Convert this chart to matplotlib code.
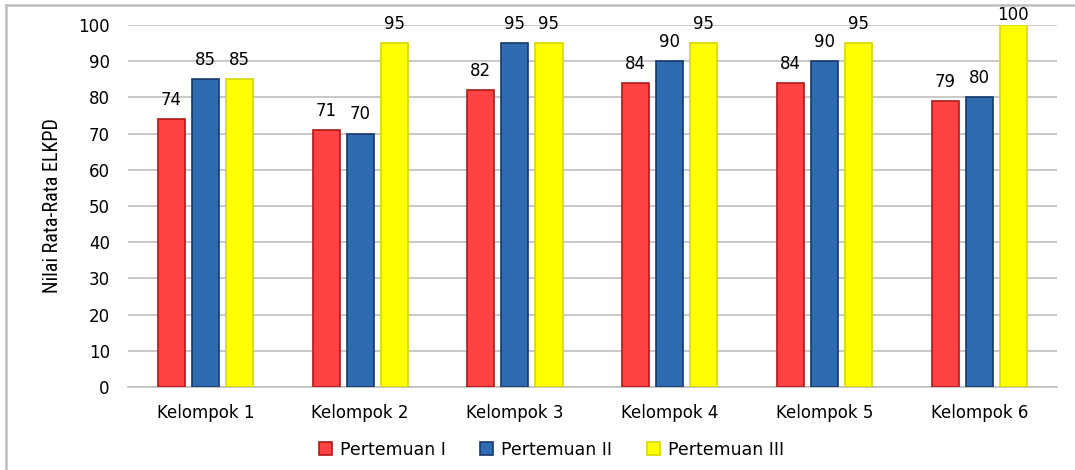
import matplotlib
matplotlib.use("Agg")
import matplotlib.pyplot as plt
import numpy as np
from matplotlib.lines import Line2D
from matplotlib import font_manager

categories = ["Kelompok 1", "Kelompok 2", "Kelompok 3", "Kelompok 4", "Kelompok 5", "Kelompok 6"]
series_names = ["Pertemuan I", "Pertemuan II", "Pertemuan III"]
pertemuan1 = [74, 71, 82, 84, 84, 79]
pertemuan2 = [85, 70, 95, 90, 90, 80]
pertemuan3 = [85, 95, 95, 95, 95, 100]
yticks = [0, 10, 20, 30, 40, 50, 60, 70, 80, 90, 100]
ylabel = "Nilai Rata-Rata ELKPD"

faces = ["#FF4343", "#2E6BB0", "#FFFF00"]
edges = ["#B01818", "#17386A", "#D8D800"]

names = {f.name for f in font_manager.fontManager.ttflist}
narrow = [n for n in ["Liberation Sans Narrow", "DejaVu Sans Condensed", "Roboto Condensed"] if n in names]
ylab_family = (narrow + ["Liberation Sans", "DejaVu Sans"])

fig = plt.figure(figsize=(10.75, 4.7), dpi=100)
ax = fig.add_axes([0.119, 0.1766, 0.864, 0.7705])
fig.add_artist(Line2D([0.006, 0.006], [0.0, 0.989], transform=fig.transFigure, color="#BFBFBF", linewidth=1.8))
fig.add_artist(Line2D([0.006, 1.0], [0.989, 0.989], transform=fig.transFigure, color="#BFBFBF", linewidth=1.8))

x = np.arange(len(categories))
w = 0.175
offs = [-0.22, 0.0, 0.22]
for vals, o, fc, ec, name in zip([pertemuan1, pertemuan2, pertemuan3], offs, faces, edges, series_names):
    bars = ax.bar(x + o, vals, width=w, color=fc, edgecolor=ec, linewidth=1.2, label=name, zorder=3)
    for b, v in zip(bars, vals):
        ty = min(v + 2.8, 100.3)
        ax.text(b.get_x() + b.get_width() / 2, ty, str(v), ha="center", va="bottom",
                fontsize=12, color="#000000", zorder=4)

ax.set_xlim(-0.5, 5.5)
ax.set_ylim(0, 100)
ax.set_yticks(yticks)
ax.set_xticks(x)
ax.set_xticklabels(categories)
ax.tick_params(axis="both", length=0, labelsize=12, colors="#000000")
ax.tick_params(axis="y", pad=13)
ax.tick_params(axis="x", pad=12)
ax.grid(axis="y", color="#BFBFBF", linewidth=1.2, zorder=0)
for s in ["top", "right", "left"]:
    ax.spines[s].set_visible(False)
ax.spines["bottom"].set_color("#BFBFBF")
ax.spines["bottom"].set_linewidth(1.2)
ax.set_ylabel(ylabel, family=ylab_family, fontsize=14.5, labelpad=12)

leg = ax.legend(loc="upper center", bbox_to_anchor=(0.456, -0.105), ncol=3, frameon=False,
                fontsize=12.5, handlelength=0.75, handleheight=0.75, columnspacing=2.0, handletextpad=0.45)

fig.savefig("out.png", dpi=100)
